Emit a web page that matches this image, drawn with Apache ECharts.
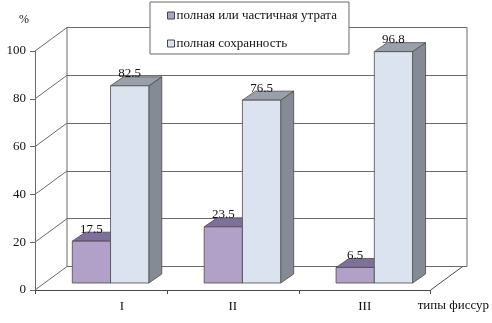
<!DOCTYPE html>
<html>
<head>
<meta charset="utf-8">
<script src="https://cdn.jsdelivr.net/npm/echarts@6/dist/echarts.min.js"></script>
<style>
html, body { margin: 0; padding: 0; background: #fff; }
#main { width: 492px; height: 323px; }
</style>
</head>
<body>
<div id="main"></div>
<script>
var categories = ['I', 'II', 'III'];
var lossValues = [17.5, 23.5, 6.5];
var keptValues = [82.5, 76.5, 96.8];
var yTicks = [0, 20, 40, 60, 80, 100];
var seriesNames = ['полная или частичная утрата', 'полная сохранность'];

// pseudo-3d offsets (px)
var WALL = [32, -23.5];   // back wall relative to front plane
var SHIFT = [9.6, -7];    // plane of the bars
var DEPTH = [13, -9];     // depth of one bar
var FONT = '"Liberation Serif", "DejaVu Serif", serif';

function prism(api, right, face, top, side) {
    var i = api.value(0), v = api.value(1);
    var p0 = api.coord([i, 0]), p1 = api.coord([i, v]);
    var w = api.size([1, 0])[0] * 0.29;
    var xa = p0[0] + SHIFT[0] + (right ? 0 : -w), xb = xa + w;
    var yb = p0[1] + SHIFT[1], yt = p1[1] + SHIFT[1];
    var dx = DEPTH[0], dy = DEPTH[1];
    var line = { stroke: '#4a4a4a', lineWidth: 0.8 };
    return {
        type: 'group',
        children: [
            { type: 'polygon', shape: { points: [[xb, yb], [xb + dx, yb + dy], [xb + dx, yt + dy], [xb, yt]] },
              style: Object.assign({ fill: side }, line) },
            { type: 'polygon', shape: { points: [[xa, yt], [xb, yt], [xb + dx, yt + dy], [xa + dx, yt + dy]] },
              style: Object.assign({ fill: top }, line) },
            { type: 'rect', shape: { x: xa, y: yt, width: w, height: yb - yt },
              style: Object.assign({ fill: face }, line) },
            { type: 'text', x: xa + w / 2, y: yt - 12,
              style: { text: String(v), fill: '#111', font: '13px ' + FONT, align: 'center', verticalAlign: 'middle' } }
        ]
    };
}

var option = {
    animation: false,
    backgroundColor: '#fff',
    grid: [
        { left: 35, right: 59, top: 51, bottom: 33 },
        { left: 67, right: 25, top: 27.5, bottom: 56.5, show: true, borderColor: '#6a6a6a', borderWidth: 1 }
    ],
    legend: {
        data: seriesNames,
        orient: 'vertical',
        left: 150,
        top: 2,
        padding: [7, 12, 4, 17],
        itemGap: 15,
        itemWidth: 7,
        itemHeight: 7,
        icon: 'rect',
        backgroundColor: '#fff',
        borderColor: '#6a6a6a',
        borderWidth: 1,
        itemStyle: { borderColor: '#444', borderWidth: 1 },
        textStyle: { fontFamily: FONT, fontSize: 13, color: '#111', padding: [0, 0, 0, -3] }
    },
    xAxis: [
        {
            gridIndex: 0,
            type: 'category',
            data: categories,
            name: 'типы фиссур',
            nameLocation: 'end',
            nameGap: -13,
            nameTextStyle: { fontFamily: FONT, fontSize: 13, color: '#111', align: 'left', verticalAlign: 'top', padding: [9, 0, 0, 0] },
            axisLine: { lineStyle: { color: '#4a4a4a' } },
            axisTick: { show: true, length: 4, interval: 0, lineStyle: { color: '#4a4a4a' } },
            axisLabel: {
                margin: 10, fontFamily: FONT, fontSize: 13, color: '#111',
                formatter: function (v) { return v === 'I' ? '{s|I}' : v; },
                rich: { s: { fontFamily: FONT, fontSize: 13, color: '#111', padding: [0, 0, 0, 42] } }
            },
            splitLine: { show: false }
        },
        { gridIndex: 1, type: 'value', min: 0, max: 1, show: false }
    ],
    yAxis: [
        {
            gridIndex: 0,
            type: 'value',
            min: 0, max: 100, interval: 20,
            name: '%',
            nameLocation: 'end',
            nameGap: 25,
            nameTextStyle: { fontFamily: FONT, fontSize: 12, color: '#111', align: 'right', padding: [0, 6, 0, 0] },
            axisLine: { show: true, lineStyle: { color: '#6a6a6a' } },
            axisTick: { show: true, length: 5, lineStyle: { color: '#6a6a6a' } },
            axisLabel: { margin: 9, fontFamily: FONT, fontSize: 13, color: '#111' },
            splitLine: { show: false }
        },
        {
            gridIndex: 1,
            type: 'value',
            min: 0, max: 100, interval: 20,
            axisLine: { show: false },
            axisTick: { show: false },
            axisLabel: { show: false },
            splitLine: { show: true, lineStyle: { color: '#6a6a6a', width: 1 } }
        }
    ],
    series: [
        {
            // side wall: diagonals from front ticks to the back wall
            type: 'custom',
            xAxisIndex: 0, yAxisIndex: 0,
            silent: true,
            data: yTicks.map(function (t) { return [0, t]; }),
            renderItem: function (params, api) {
                var y = api.coord([0, api.value(1)])[1];
                var x = params.coordSys.x;
                return { type: 'line', shape: { x1: x, y1: y, x2: x + WALL[0], y2: y + WALL[1] },
                         style: { stroke: '#6a6a6a', lineWidth: 1 } };
            }
        },
        {
            // floor, right edge
            type: 'custom',
            xAxisIndex: 0, yAxisIndex: 0,
            silent: true,
            data: [[categories.length - 1, 0]],
            renderItem: function (params, api) {
                var y = api.coord([api.value(0), 0])[1];
                var x = params.coordSys.x + params.coordSys.width;
                return { type: 'line', shape: { x1: x, y1: y, x2: x + WALL[0], y2: y + WALL[1] },
                         style: { stroke: '#4a4a4a', lineWidth: 1 } };
            }
        },
        {
            name: seriesNames[0],
            type: 'custom',
            xAxisIndex: 0, yAxisIndex: 0,
            itemStyle: { color: '#b1a0c8' },
            data: lossValues.map(function (v, i) { return [i, v]; }),
            renderItem: function (params, api) {
                return prism(api, false, '#b1a0c8', '#7f7099', '#6f6288');
            }
        },
        {
            name: seriesNames[1],
            type: 'custom',
            xAxisIndex: 0, yAxisIndex: 0,
            itemStyle: { color: '#dbe3f1' },
            data: keptValues.map(function (v, i) { return [i, v]; }),
            renderItem: function (params, api) {
                return prism(api, true, '#dbe3f1', '#9aa0aa', '#858b95');
            }
        }
    ]
};

echarts.init(document.getElementById('main')).setOption(option);
</script>
</body>
</html>
